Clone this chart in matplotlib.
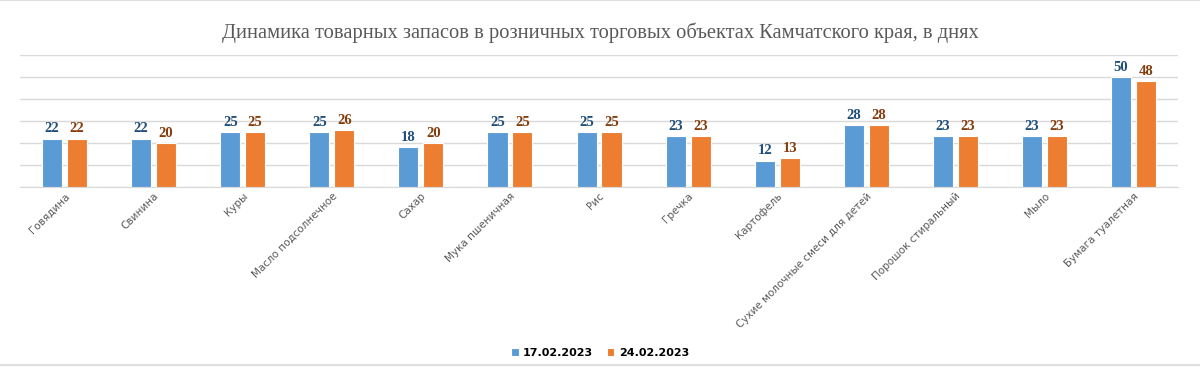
import matplotlib.pyplot as plt
from matplotlib.lines import Line2D
import numpy as np

categories = ["Говядина", "Свинина", "Куры", "Масло подсолнечное", "Сахар",
              "Мука пшеничная", "Рис", "Гречка", "Картофель",
              "Сухие молочные смеси для детей", "Порошок стиральный", "Мыло",
              "Бумага туалетная"]
series_names = ["17.02.2023", "24.02.2023"]
values_1 = [22, 22, 25, 25, 18, 25, 25, 23, 12, 28, 23, 23, 50]
values_2 = [22, 20, 25, 26, 20, 25, 25, 23, 13, 28, 23, 23, 48]

blue = "#5B9BD5"
orange = "#ED7D31"

fig = plt.figure(figsize=(12, 3.67), dpi=100)
ax = fig.add_axes([0.0167, 0.4905, 0.965, 0.3595])

x = np.arange(len(categories))
w = 0.225
off = 0.14
b1 = ax.bar(x - off, values_1, w, color=blue, edgecolor="white", linewidth=0.8, label=series_names[0], zorder=3)
b2 = ax.bar(x + off, values_2, w, color=orange, edgecolor="white", linewidth=0.8, label=series_names[1], zorder=3)

for rect, v in zip(b1, values_1):
    ax.text(rect.get_x() + rect.get_width() / 2, v + 1.5, str(v), ha="center", va="bottom",
            fontsize=10.5, fontweight="bold", family="Liberation Serif", color="#1F4E79")
for rect, v in zip(b2, values_2):
    ax.text(rect.get_x() + rect.get_width() / 2, v + 1.5, str(v), ha="center", va="bottom",
            fontsize=10.5, fontweight="bold", family="Liberation Serif", color="#843C0C")

ax.set_xlim(-0.5, len(categories) - 0.5)
ax.set_ylim(0, 60)
ax.set_yticks(np.arange(0, 61, 10))
ax.yaxis.grid(True, color="#D9D9D9", linewidth=1, zorder=0)
ax.set_yticklabels([])
ax.tick_params(axis="y", length=0)
ax.tick_params(axis="x", length=0, pad=3)
for s in ["top", "right", "left"]:
    ax.spines[s].set_visible(False)
ax.spines["bottom"].set_color("#D9D9D9")

ax.set_xticks(x)
ax.set_xticklabels(categories, rotation=45, ha="right", rotation_mode="anchor",
                   fontsize=7.5, color="#595959")

fig.text(0.5, 0.912, "Динамика товарных запасов в розничных торговых объектах Камчатского края, в днях",
         ha="center", va="center", fontsize=14.8, family="Liberation Serif", color="#595959")

leg = fig.legend(handles=[b1, b2], labels=series_names, loc="center", bbox_to_anchor=(0.5, 0.038),
                 ncol=2, frameon=False, fontsize=8, handlelength=0.7, handleheight=0.7,
                 handletextpad=0.4, columnspacing=1.2)
for t in leg.get_texts():
    t.set_fontweight("bold")

# chart border lines (top and bottom)
fig.add_artist(Line2D([0, 1], [0.999, 0.999], transform=fig.transFigure, color="#E0E0E0", linewidth=1.5))
fig.add_artist(Line2D([0, 1], [0.006, 0.006], transform=fig.transFigure, color="#E0E0E0", linewidth=1.5))

fig.savefig("out.png", dpi=100)
